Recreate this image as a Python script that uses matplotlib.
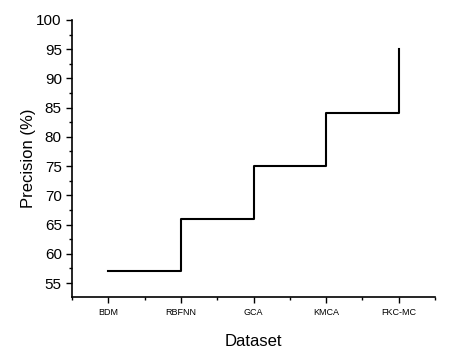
import matplotlib
matplotlib.use("Agg")
import matplotlib.pyplot as plt
from matplotlib.ticker import MultipleLocator

plt.rcParams['font.family'] = ['Liberation Sans', 'DejaVu Sans']

datasets = ['BDM', 'RBFNN', 'GCA', 'KMCA', 'FKC-MC']
precision = [57, 66, 75, 84, 95]

fig = plt.figure(figsize=(4.54, 3.55), dpi=100)
ax = fig.add_axes([0.159, 0.163, 0.799, 0.781])

x = list(range(len(datasets)))
ax.plot(x, precision, drawstyle='steps-post', color='black', lw=1.5)

ax.set_xlim(-0.5, 4.5)
ax.set_ylim(52.6, 100)
ax.set_xticks(x)
ax.set_xticklabels(datasets, fontsize=6.5)
ax.xaxis.set_minor_locator(MultipleLocator(0.5))
ax.yaxis.set_major_locator(MultipleLocator(5))
ax.yaxis.set_minor_locator(MultipleLocator(2.5))
ax.tick_params(axis='y', labelsize=11, direction='out', length=4, width=1)
ax.tick_params(axis='x', direction='out', length=4, width=1, pad=4)
ax.tick_params(which='minor', direction='out', length=2.5, width=1)

for s in ['top', 'right']:
    ax.spines[s].set_visible(False)
for s in ['left', 'bottom']:
    ax.spines[s].set_linewidth(1.2)

ax.set_xlabel('Dataset', fontsize=12, labelpad=12)
ax.set_ylabel('Precision (%)', fontsize=12, labelpad=0)

fig.savefig('out.png', dpi=100)
